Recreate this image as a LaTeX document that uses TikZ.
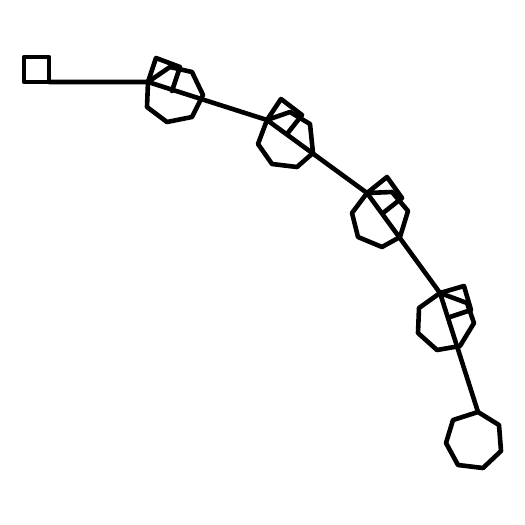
\documentclass[tikz,border=0pt]{standalone}
\tikzset{bondline/.style={line width=4.6pt,line join=round,line cap=round,black}}
\begin{document}
\begin{tikzpicture}[x=1pt,y=-1pt]
\useasboundingbox (0,0) rectangle (525,525);
% junction atoms
\coordinate (j1) at (148,82);
\coordinate (j2) at (267,120);
\coordinate (j3) at (367,193);
\coordinate (j4) at (440,293);
\coordinate (j5) at (478,412);
% end square
\draw[bondline] (24,57) -- (49,57) -- (49,82) -- (24,82) -- cycle;
\coordinate (s0) at (49,82);
% chain
\draw[bondline] (s0) -- (j1) -- (j2) -- (j3) -- (j4) -- (j5);
% unit 1
\draw[bondline] (j1) -- (147,107) -- (167,122) -- (192,117) -- (203,95) -- (192,72) -- (170,67) -- cycle;
\draw[bondline] (j1) -- (156,58) -- (180,67) -- (172,91);
% unit 2
\draw[bondline] (j2) -- (258,144) -- (272,164) -- (297,167) -- (313,153) -- (310,124) -- (290,112) -- cycle;
\draw[bondline] (j2) -- (281,99) -- (302,115) -- (287,134);
% unit 3
\draw[bondline] (j3) -- (352,213) -- (358,237) -- (382,247) -- (400,237) -- (408,211) -- (392,192) -- cycle;
\draw[bondline] (j3) -- (387,177) -- (402,198) -- (383,213);
% unit 4
\draw[bondline] (j4) -- (419,308) -- (418,333) -- (437,350) -- (460,346) -- (474,323) -- (467,303) -- cycle;
\draw[bondline] (j4) -- (464,286) -- (471,310) -- (450,317);
% last ring
\draw[bondline] (j5) -- (499,425) -- (501,451) -- (483,468) -- (458,465) -- (446,443) -- (453,420) -- cycle;
\end{tikzpicture}
\end{document}
